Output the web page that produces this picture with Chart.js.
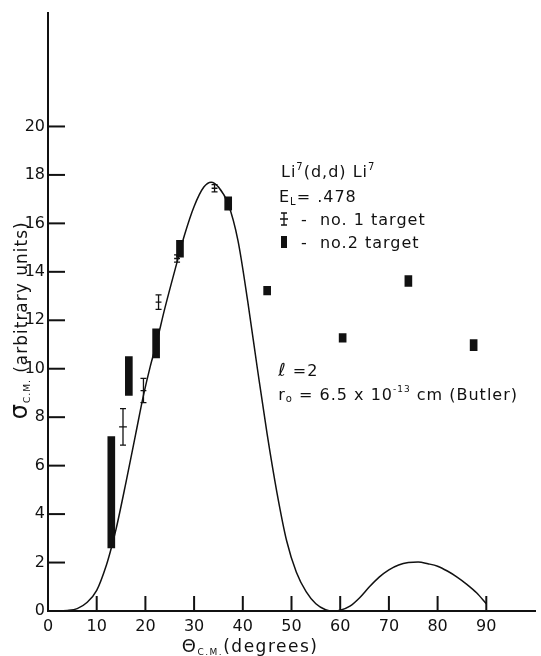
<!DOCTYPE html>
<html>
<head>
<meta charset="utf-8">
<script src="https://cdn.jsdelivr.net/npm/chart.js@4.4.0/dist/chart.umd.min.js"></script>
<style>
    html, body { margin: 0; padding: 0; background: #fff; }
</style>
</head>
<body>
<canvas id="grafico" width="541" height="656"></canvas>
<script>
// theoretical curve (Butler, l=2)
var curveX = [0, 2, 4, 6, 8, 10, 12, 13, 14, 16, 18, 19.6, 21, 22.2, 24, 26.5, 28, 30, 32, 33.5, 35, 37, 39, 41, 43, 45, 47, 49, 51, 53, 55, 57, 58, 59, 60, 62, 64, 66, 68, 70, 72, 74, 76, 78, 80, 82, 84, 86, 88, 90];
var curveY = [0, 0, 0.02, 0.1, 0.35, 0.85, 1.9, 2.6, 3.4, 5.3, 7.3, 8.9, 10.1, 11.0, 12.5, 14.4, 15.5, 16.7, 17.5, 17.7, 17.5, 16.8, 15.3, 12.8, 10.0, 7.3, 4.9, 2.9, 1.6, 0.8, 0.3, 0.05, 0, 0, 0.03, 0.2, 0.55, 1.0, 1.4, 1.7, 1.9, 2.0, 2.02, 1.95, 1.85, 1.65, 1.4, 1.1, 0.75, 0.3];

// no. 1 target (crosses with error bars)
var t1Angle = [15.4, 19.6, 22.7, 26.5, 34.2];
var t1Value = [7.6, 9.1, 12.75, 14.55, 17.45];
var t1Err = [0.75, 0.5, 0.3, 0.15, 0.15];
var t1AngErr = [0.8, 0.6, 0.6, 0.6, 0.6];

// no. 2 target (black boxes, low/high)
var t2Angle = [13.0, 16.6, 22.2, 27.1, 37.0, 45.0, 60.5, 74.0, 87.4];
var t2Low = [2.6, 8.9, 10.45, 14.6, 16.55, 13.05, 11.1, 13.4, 10.75];
var t2High = [7.2, 10.5, 11.65, 15.3, 17.1, 13.4, 11.45, 13.85, 11.2];

var xTicks = [0, 10, 20, 30, 40, 50, 60, 70, 80, 90];
var yTicks = [0, 2, 4, 6, 8, 10, 12, 14, 16, 18, 20];

var FONT = "'DejaVu Sans', sans-serif";
var INK = "#111";

// testo con apici e pedici: parts = [testo, size, spostamento verticale]
function scriviRicco(ctx, x, y, parts) {
    ctx.textBaseline = "alphabetic";
    ctx.textAlign = "left";
    for (var i = 0; i < parts.length; i++) {
        var p = parts[i];
        ctx.font = p[1] + "px " + FONT;
        ctx.fillText(p[0], x, y + (p[2] || 0));
        x += ctx.measureText(p[0]).width;
    }
    return x;
}

function larghezza(ctx, parts) {
    var w = 0;
    for (var i = 0; i < parts.length; i++) {
        ctx.font = parts[i][1] + "px " + FONT;
        w += ctx.measureText(parts[i][0]).width;
    }
    return w;
}

var extraPlugin = {
    id: "extra",
    afterDatasetsDraw: function (chart) {
        var ctx = chart.ctx;
        var xs = chart.scales.x;
        var ys = chart.scales.y;
        ctx.save();
        ctx.strokeStyle = INK;
        ctx.fillStyle = INK;

        // tacche verso l'interno
        ctx.lineWidth = 2;
        for (var i = 1; i < yTicks.length; i++) {
            var py = ys.getPixelForValue(yTicks[i]);
            ctx.beginPath();
            ctx.moveTo(xs.left, py);
            ctx.lineTo(xs.left + 17, py);
            ctx.stroke();
        }
        for (var j = 1; j < xTicks.length; j++) {
            var px = xs.getPixelForValue(xTicks[j]);
            ctx.beginPath();
            ctx.moveTo(px, ys.bottom);
            ctx.lineTo(px, ys.bottom - 15);
            ctx.stroke();
        }

        // barre d'errore del target no. 1
        ctx.lineWidth = 1.3;
        for (var k = 0; k < t1Angle.length; k++) {
            var cx = xs.getPixelForValue(t1Angle[k]);
            var cy = ys.getPixelForValue(t1Value[k]);
            var top = ys.getPixelForValue(t1Value[k] + t1Err[k]);
            var bot = ys.getPixelForValue(t1Value[k] - t1Err[k]);
            var l = xs.getPixelForValue(t1Angle[k] - t1AngErr[k]);
            var r = xs.getPixelForValue(t1Angle[k] + t1AngErr[k]);
            ctx.beginPath();
            ctx.moveTo(cx, top); ctx.lineTo(cx, bot);
            ctx.moveTo(cx - 3, top); ctx.lineTo(cx + 3, top);
            ctx.moveTo(cx - 3, bot); ctx.lineTo(cx + 3, bot);
            ctx.moveTo(l, cy); ctx.lineTo(r, cy);
            ctx.stroke();
        }

        // legenda e note
        ctx.letterSpacing = "1px";
        var lx = 281;
        scriviRicco(ctx, lx, 177, [["Li", 16], ["7", 10, -7], ["(d,d) Li", 16], ["7", 10, -7]]);
        scriviRicco(ctx, lx - 2, 202, [["E", 16], ["L", 10, 3], ["= .478", 16]]);

        // simbolo no.1
        ctx.lineWidth = 1.3;
        ctx.beginPath();
        ctx.moveTo(lx + 3, 213); ctx.lineTo(lx + 3, 225);
        ctx.moveTo(lx, 213); ctx.lineTo(lx + 6, 213);
        ctx.moveTo(lx, 225); ctx.lineTo(lx + 6, 225);
        ctx.moveTo(lx - 1, 219); ctx.lineTo(lx + 7, 219);
        ctx.stroke();
        scriviRicco(ctx, lx + 20, 225, [["-  no. 1 target", 16]]);

        // simbolo no.2
        ctx.fillRect(lx, 236, 6, 12);
        scriviRicco(ctx, lx + 20, 248, [["-  no.2 target", 16]]);

        var r0 = [["r", 16], ["o", 10, 2], [" = 6.5 x 10", 16], ["-13", 9, -8], [" cm (Butler)", 16]];
        var rx = 518 - larghezza(ctx, r0);
        scriviRicco(ctx, rx, 376, [["\u2113", 18], [" =2", 16]]);
        scriviRicco(ctx, rx, 400, r0);

        // titolo asse x
        ctx.letterSpacing = "1.5px";
        var tx = [["\u0398", 18], ["C.M.", 9, 3], ["(degrees)", 17]];
        scriviRicco(ctx, xs.getPixelForValue(41.5) - larghezza(ctx, tx) / 2, 652, tx);

        // titolo asse y (ruotato)
        ctx.letterSpacing = "1px";
        ctx.translate(27, ys.getPixelForValue(12));
        ctx.rotate(-Math.PI / 2);
        var ty = [["\u03C3", 24], ["C.M.", 9, 3], [" (arbitrary units)", 17]];
        scriviRicco(ctx, -larghezza(ctx, ty) / 2, 0, ty);

        ctx.restore();
    }
};

var puntiCurva = [];
for (var i = 0; i < curveX.length; i++) {
    puntiCurva.push({ x: curveX[i], y: curveY[i] });
}
var scatole = [];
for (var i = 0; i < t2Angle.length; i++) {
    scatole.push({ x: t2Angle[i], y: [t2Low[i], t2High[i]] });
}
var croci = [];
for (var i = 0; i < t1Angle.length; i++) {
    croci.push({ x: t1Angle[i], y: t1Value[i] });
}

var ctx = document.getElementById("grafico");
var chart = new Chart(ctx, {
    type: "scatter",
    data: {
        datasets: [{
            type: "line",
            data: puntiCurva,
            borderColor: INK,
            borderWidth: 1.5,
            pointRadius: 0,
            cubicInterpolationMode: "monotone",
            fill: false
        }, {
            type: "bar",
            data: scatole,
            backgroundColor: INK,
            barThickness: 7,
            grouped: false
        }, {
            type: "scatter",
            data: croci,
            pointRadius: 0
        }]
    },
    options: {
        responsive: false,
        animation: false,
        devicePixelRatio: 1,
        layout: { padding: { top: 9, right: 0, left: 0, bottom: 0 } },
        plugins: { legend: { display: false }, tooltip: { enabled: false } },
        scales: {
            x: {
                type: "linear",
                min: 0,
                max: 100,
                offset: false,
                grid: { display: false, drawTicks: false },
                border: { display: true, color: INK, width: 2 },
                ticks: {
                    stepSize: 10,
                    padding: 6,
                    color: INK,
                    maxRotation: 0,
                    font: { family: FONT, size: 16 },
                    callback: function (v) { return xTicks.indexOf(v) >= 0 ? v : ""; }
                },
                afterFit: function (s) { s.height = 45; }
            },
            y: {
                type: "linear",
                min: 0,
                max: 24.7,
                grid: { display: false, drawTicks: false },
                border: { display: true, color: INK, width: 2 },
                ticks: {
                    stepSize: 2,
                    padding: 3,
                    color: INK,
                    font: { family: FONT, size: 16 },
                    callback: function (v) { return yTicks.indexOf(v) >= 0 ? v : ""; }
                },
                afterFit: function (s) { s.width = 48; }
            }
        }
    },
    plugins: [extraPlugin]
});
</script>
</body>
</html>
